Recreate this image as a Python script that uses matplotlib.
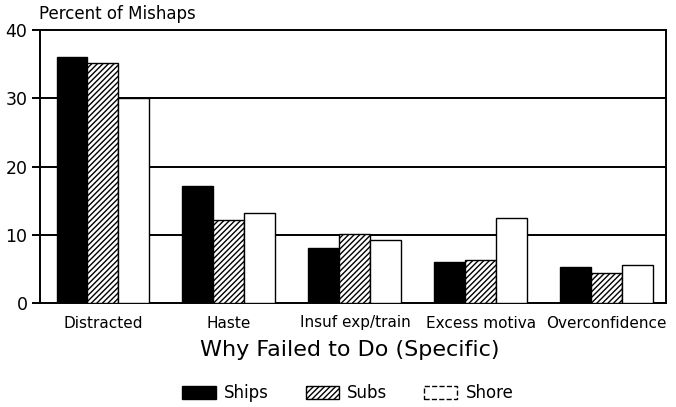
import matplotlib
matplotlib.use("Agg")
import matplotlib.pyplot as plt
import numpy as np
from matplotlib.patches import Patch

# values
categories = ["Distracted", "Haste", "Insuf exp/train", "Excess motiva", "Overconfidence"]
ships = [36.0, 17.1, 8.0, 6.0, 5.3]
subs = [35.1, 12.2, 10.1, 6.3, 4.4]
shore = [30.0, 13.2, 9.2, 12.4, 5.6]
yticks = [0, 10, 20, 30, 40]

plt.rcParams['font.family'] = ['DejaVu Sans']
plt.rcParams['hatch.linewidth'] = 1.0

fig = plt.figure(figsize=(6.76, 4.07), dpi=100)
ax = fig.add_axes([40 / 676, 1 - 303 / 407, 626 / 676, 273 / 407])

x = np.arange(len(categories)) + 0.5
w = 0.246
ax.bar(x - w, ships, w, color="black", edgecolor="black", linewidth=1, zorder=3)
ax.bar(x, subs, w, color="white", edgecolor="black", hatch="//////", linewidth=1, zorder=3)
ax.bar(x + w, shore, w, color="white", edgecolor="black", linewidth=1, zorder=3)

for v in yticks[1:-1]:
    ax.axhline(v, color="black", linewidth=1.4, zorder=1)

ax.set_xlim(0, 4.97)
ax.set_ylim(0, 40)
ax.set_yticks(yticks)
ax.set_yticklabels([str(t) for t in yticks], fontsize=12.5)
ax.set_xticks(x)
ax.set_xticklabels(categories, fontsize=11)
ax.tick_params(axis="x", length=0, pad=9)
ax.tick_params(axis="y", length=6, width=1.4, pad=3)
for s in ax.spines.values():
    s.set_linewidth(1.4)

fig.text(39 / 676, 1 - 14 / 407, "Percent of Mishaps", fontsize=12,
         va="center", ha="left")
fig.text(350 / 676, 1 - 350 / 407, "Why Failed to Do (Specific)", fontsize=16,
         va="center", ha="center")

handles = [
    Patch(facecolor="black", edgecolor="black", label="Ships"),
    Patch(facecolor="white", edgecolor="black", hatch="//////", label="Subs"),
    Patch(facecolor="white", edgecolor="black", linestyle="--", label="Shore"),
]
fig.legend(handles=handles, loc="center", bbox_to_anchor=(348 / 676, 1 - 393 / 407),
           ncol=3, frameon=False, fontsize=12, handlelength=2.0, handleheight=0.8,
           columnspacing=2.2, handletextpad=0.5)

fig.savefig("out.png", dpi=100)
